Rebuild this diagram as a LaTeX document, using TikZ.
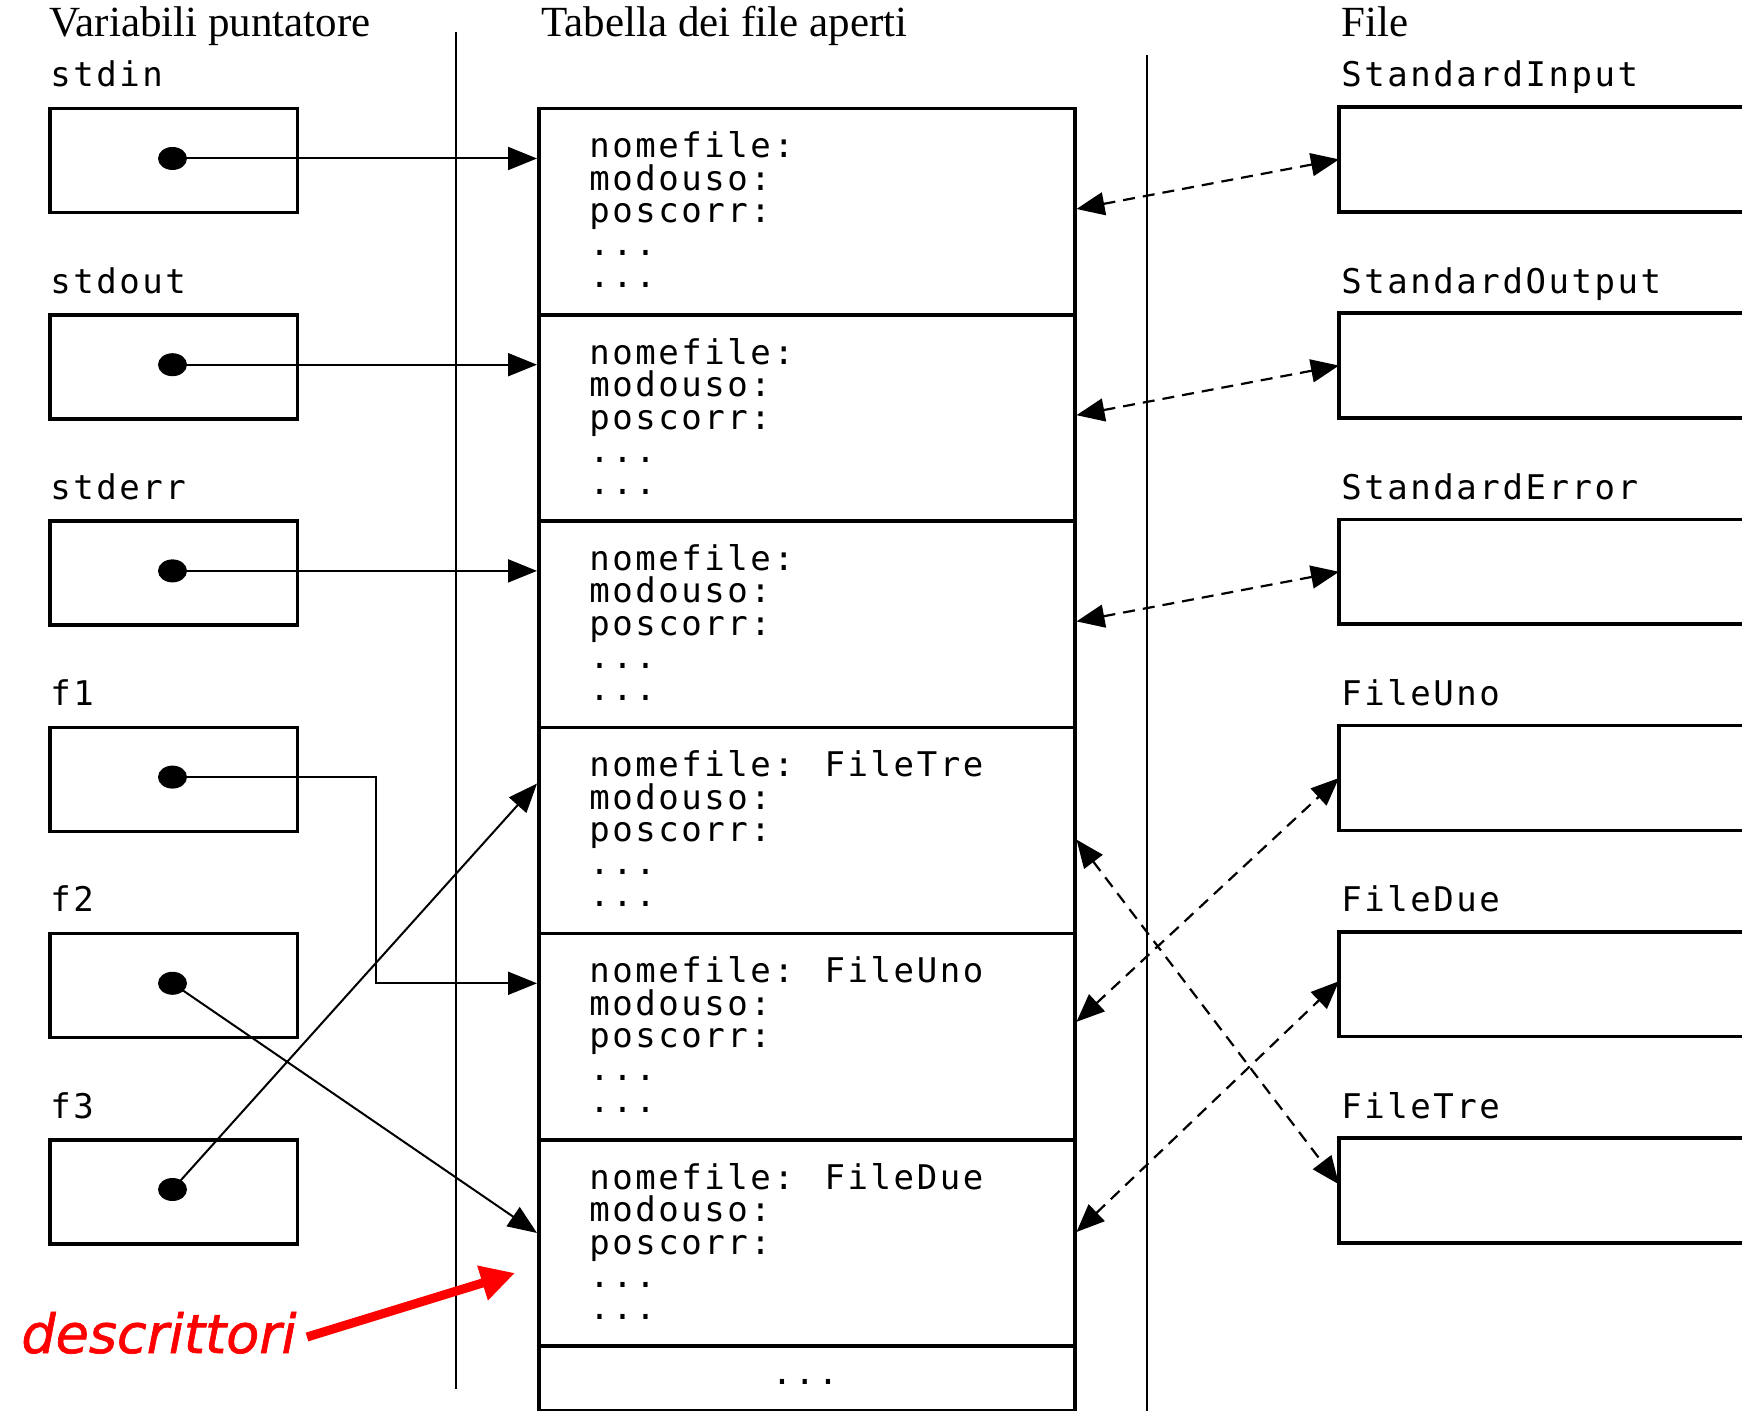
\documentclass[tikz,border=0pt]{standalone}
\usepackage{fontspec}
\setmainfont{Liberation Serif}
\newfontfamily\monof[LetterSpace=7.5]{DejaVu Sans Mono}
\newfontfamily\descf[FakeBold=1.2]{DejaVu Sans}
\usetikzlibrary{arrows.meta,shapes.geometric,calc}
\begin{document}
\begin{tikzpicture}[x=0.5pt,y=-0.5pt,
  hdr/.style={anchor=base west, inner sep=0pt, font=\fontsize{21.5pt}{21.5pt}\selectfont},
  mono/.style={anchor=base west, inner sep=0pt, font=\monof\fontsize{17pt}{17pt}\selectfont},
  varbox/.style={draw, line width=1.75pt, anchor=north west, minimum width=123.75pt, minimum height=52pt, inner sep=0pt},
  rowbox/.style={draw, line width=1.75pt, anchor=north west, minimum width=268pt, minimum height=103.1pt, inner sep=0pt},
  lastrow/.style={draw, line width=1.75pt, anchor=north west, minimum width=268pt, minimum height=32.5pt, inner sep=0pt},
  filebox/.style={anchor=north west, minimum width=201.5pt, minimum height=52pt, inner sep=0pt},
  boxline/.style={line width=1.75pt},
  dotn/.style={ellipse, fill=black, minimum width=14.5pt, minimum height=11.5pt, inner sep=0pt},
  ptr/.style={line width=1pt, -{Triangle[length=14.5pt,width=11.5pt]}},
  dsh/.style={line width=1.1pt, dash pattern=on 6pt off 4pt, {Triangle[length=14pt,width=11.5pt]}-{Triangle[length=14pt,width=11.5pt]}},
  sepline/.style={line width=1.1pt},
  desc/.style={anchor=base west, inner sep=0pt, text=red, font=\descf\itshape\fontsize{27pt}{27pt}\selectfont}
]
\useasboundingbox (0,0) rectangle (1742,1411);

% headers
\node[hdr] (h1) at (49,37) {Variabili puntatore};
\node[hdr] (h2) at (541,37) {Tabella dei file aperti};
\node[hdr] (h3) at (1341,37) {File};

% separators
\coordinate (s1a) at (456,32);
\coordinate (s1b) at (456,1389);
\coordinate (s2a) at (1147,55);
\coordinate (s2b) at (1147,1411);
\draw[sepline] (s1a) -- (s1b);
\draw[sepline] (s2a) -- (s2b);

% rows
\foreach \i/\lab/\fname/\nm in {1/stdin/StandardInput/nomefile:,
                               2/stdout/StandardOutput/nomefile:,
                               3/stderr/StandardError/nomefile:,
                               4/f1/FileUno/nomefile: FileTre,
                               5/f2/FileDue/nomefile: FileUno,
                               6/f3/FileTre/nomefile: FileDue} {
  \pgfmathsetmacro\rtop{107+206.2*(\i-1)}
  \node[varbox] (v\i) at (48,\rtop) {};
  \node[mono] (l\i) at (50,{\rtop-20}) {\lab};
  \node[dotn] (d\i) at (172.5,{\rtop+51.5}) {};
  \node[rowbox] (r\i) at (537,\rtop) {};
  \node[mono] (ta\i) at (589,{\rtop+51}) {\nm};
  \node[mono] (tb\i) at (589,{\rtop+83.5}) {modouso:};
  \node[mono] (tc\i) at (589,{\rtop+116}) {poscorr:};
  \node[mono] (td\i) at (589,{\rtop+149}) {...};
  \node[mono] (te\i) at (589,{\rtop+181}) {...};
  \node[filebox] (F\i) at (1339,\rtop) {};
  \draw[boxline] (F\i.north east) -- (F\i.north west) -- (F\i.south west) -- (F\i.south east);
  \node[mono] (fl\i) at (1341,{\rtop-20}) {\fname};
}
\node[lastrow] (r7) at (537,1344.2) {};
\node[mono, anchor=base] (t7) at (805,1384) {...};

% pointer arrows
\draw[ptr] (d1.center) -- (d1 -| r1.west);
\draw[ptr] (d2.center) -- (d2 -| r2.west);
\draw[ptr] (d3.center) -- (d3 -| r3.west);
\coordinate (bend) at (376,0);
\draw[ptr] (d4.center) -| (bend |- d5) -- (d5 -| r5.west);
\draw[ptr] (d5.center) -- ($(r6.north west)+(0,95)$);
\draw[ptr] (d6.center) -- ($(r4.north west)+(0,58)$);

% dashed links to files
\draw[dsh] ($(r1.north east)+(0,102)$) -- (F1.west);
\draw[dsh] ($(r2.north east)+(0,102)$) -- (F2.west);
\draw[dsh] ($(r3.north east)+(0,102)$) -- (F3.west);
\draw[dsh] ($(r4.north east)+(0,114)$) -- ($(F6.west)+(0,-6)$);
\draw[dsh] ($(r5.north east)+(0,90)$) -- (F4.west);
\draw[dsh] ($(r6.north east)+(0,94)$) -- ($(F5.west)+(0,-3)$);

% descrittori
\node[desc] (desc) at (21,1353) {descrittori};
\coordinate (rs) at (307,1337);
\coordinate (rt) at (515,1273);
\draw[red, line width=4.5pt, -{Triangle[length=17pt,width=17pt]}] (rs) -- (rt);
\end{tikzpicture}
\end{document}
